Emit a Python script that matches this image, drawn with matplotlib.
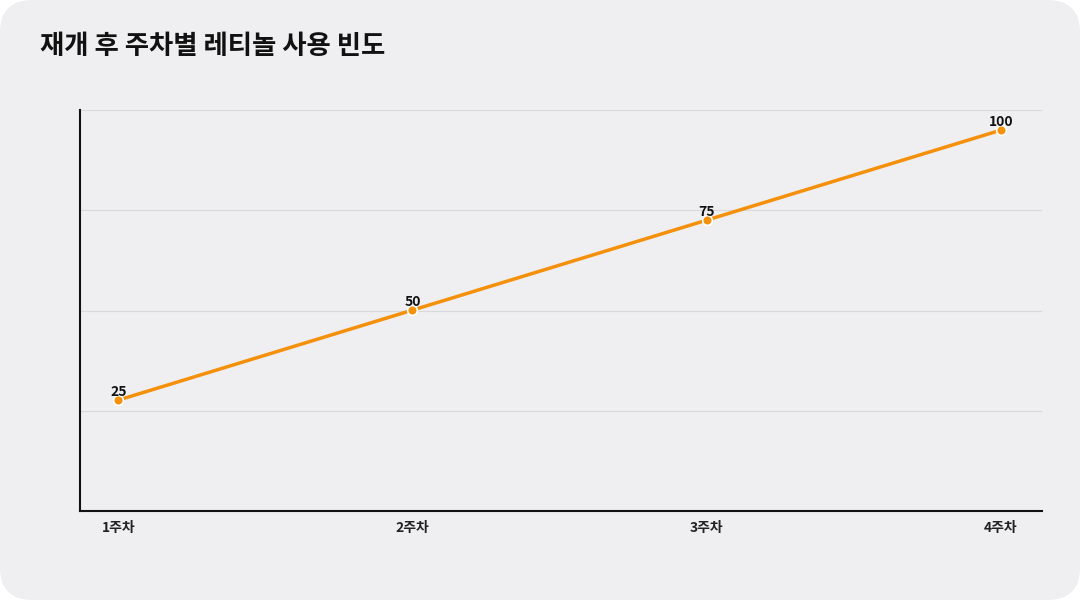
import matplotlib
matplotlib.use("Agg")
import matplotlib.pyplot as plt
from matplotlib.patches import FancyBboxPatch
import numpy as np

plt.rcParams['font.family'] = ['Noto Sans CJK KR', 'DejaVu Sans']

categories = ['1주차', '2주차', '3주차', '4주차']
values = [25, 50, 75, 100]
title = '재개 후 주차별 레티놀 사용 빈도'

bg = '#efeff1'
color = '#f5900a'

fig = plt.figure(figsize=(10.8, 6.0), dpi=100)
fig.patch.set_facecolor('white')
fig.patches.append(FancyBboxPatch((0, 0), 1, 1, boxstyle="round,pad=0,rounding_size=0.03",
                                  transform=fig.transFigure, facecolor=bg, edgecolor='none',
                                  mutation_aspect=1.8, zorder=-10))

ax = fig.add_axes([80/1080, 1-511/600, (1042-80)/1080, (511-110)/600])
ax.set_facecolor(bg)
x = np.arange(len(categories))
ax.plot(x, values, color=color, lw=2.5, marker='o', ms=7, mfc=color, mec='white', mew=1.2, zorder=3)
for xi, v in zip(x, values):
    ax.annotate(str(v), (xi, v), xytext=(0, 1), textcoords='offset points', ha='center', va='bottom',
                fontsize=10, fontweight='bold', color='#111111', zorder=4)

ax.set_xlim(-0.13, 3.14)
ax.set_ylim(-5.8, 105.6)
ax.set_yticks(np.linspace(-5.8, 105.6, 5)[1:])
ax.set_yticklabels([])
ax.tick_params(axis='y', length=0)
ax.grid(axis='y', color='#d9d9dc', lw=0.8)
ax.set_axisbelow(True)
ax.set_xticks(x)
ax.set_xticklabels(categories, fontsize=10, fontweight='bold', color='#222222')
ax.tick_params(axis='x', length=0, pad=7)
for s in ['top', 'right']:
    ax.spines[s].set_visible(False)
for s in ['left', 'bottom']:
    ax.spines[s].set_color('#111111')
    ax.spines[s].set_linewidth(1.5)

fig.text(40/1080, 1-47/600, title, fontsize=19, fontweight='bold', color='#111111', va='center', ha='left')

fig.savefig('out.png', dpi=100, facecolor=fig.get_facecolor())
